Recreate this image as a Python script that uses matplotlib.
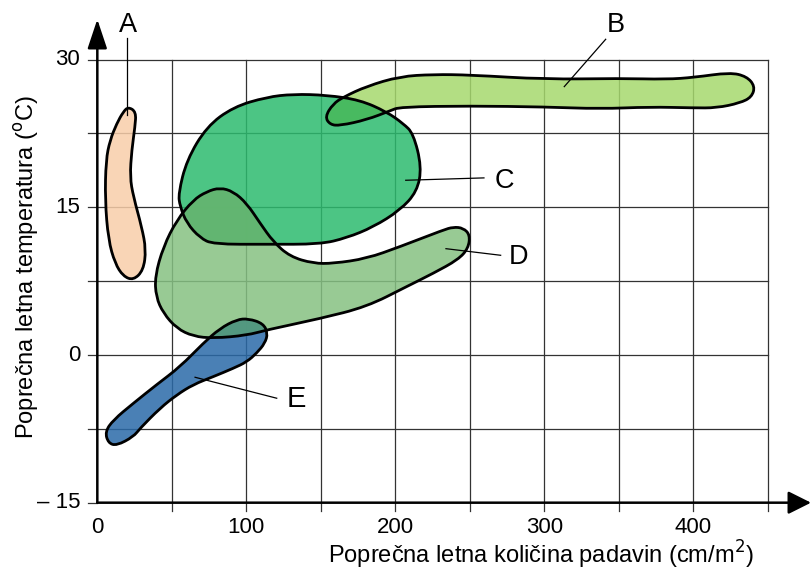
import numpy as np
import matplotlib
matplotlib.use('Agg')
import matplotlib.pyplot as plt
from matplotlib.path import Path
from matplotlib.patches import PathPatch

plt.rcParams['font.family'] = ['Liberation Sans', 'DejaVu Sans']

# region outlines: (rainfall cm/m2, temperature C)
a_rain = [20.8, 26.0, 25.3, 23.1, 21.9, 24.2, 29.8, 32.7, 30.9, 24.2, 17.4, 11.9, 7.4, 5.2, 5.8, 8.5, 13.0, 17.4]
a_temp = [25.2, 24.7, 23.2, 20.8, 18.1, 16.1, 13.0, 10.7, 8.6, 7.6, 8.0, 9.3, 11.7, 15.75, 19.8, 21.8, 23.5, 24.7]

b_rain = [152.8, 158.2, 165.1, 180.8, 203.1, 225.5, 250.3, 300.5, 350.3, 382.1, 400.6, 424.6, 435.8, 441.4,
          439.2, 431.3, 415.7, 400.0, 370.9, 337.4, 300.5, 250.3, 203.1, 196.4, 180.8, 162.9, 156.2]
b_temp = [24.2, 25.5, 26.2, 27.3, 28.3, 28.5, 28.45, 28.0, 28.1, 28.0, 28.2, 28.7, 28.3, 27.3,
          26.2, 25.6, 25.1, 25.1, 25.2, 25.0, 25.2, 25.3, 25.2, 24.8, 23.9, 23.3, 23.4]

c_rain = [54.4, 60.0, 73.4, 91.3, 113.7, 131.5, 154.0, 176.3, 194.2, 205.4, 212.1, 217.7, 214.6, 203.1,
          185.2, 167.4, 149.5, 113.7, 77.8, 68.9, 60.0, 55.5]
c_temp = [16.4, 19.8, 23.2, 25.2, 26.2, 26.5, 26.4, 25.9, 24.7, 23.5, 22.5, 19.1, 16.6, 14.7,
          13.0, 11.9, 11.25, 11.25, 11.25, 11.9, 13.4, 15.1]

d_rain = [38.7, 44.3, 53.3, 64.4, 73.4, 82.3, 91.3, 100.3, 109.2, 118.1, 129.3, 145.0, 158.4, 180.8, 203.1,
          232.2, 238.9, 245.6, 250.1, 249.0, 242.3, 225.5, 207.6, 180.8, 149.5, 113.7, 100.3, 77.8,
          64.4, 53.3, 44.3, 39.4]
d_temp = [8.0, 11.0, 13.7, 15.75, 16.6, 17.0, 16.6, 15.4, 13.4, 11.5, 10.0, 9.3, 9.3, 9.8, 11.0,
          12.7, 13.0, 12.9, 12.2, 10.85, 9.7, 8.3, 6.95, 4.9, 3.7, 2.55, 2.0, 1.7,
          1.9, 2.7, 4.25, 5.9]

e_rain = [101.3, 111.4, 114.4, 112.5, 107.0, 100.3, 91.3, 77.8, 64.4, 53.3, 42.1, 28.7, 24.2, 13.0, 7.4,
          5.2, 10.7, 24.2, 39.9, 55.5, 71.1, 82.3, 93.6]
e_temp = [3.7, 3.2, 2.2, 1.2, 0.2, -0.7, -1.35, -2.2, -3.0, -4.05, -5.4, -7.45, -8.3, -9.2, -8.95,
          -7.8, -6.6, -4.9, -3.0, -1.2, 1.2, 2.7, 3.6]

x_ticks = [0, 100, 200, 300, 400]
x_ticklabels = ['0', '100', '200', '300', '400']
y_ticks = [30, 15, 0, -15]
y_ticklabels = ['30', '15', '0', '\u2013 15']
grid_x = [50, 100, 150, 200, 250, 300, 350, 400, 450]
grid_y = [-7.5, 0, 7.5, 15, 22.5, 30]


def blob_path(xs, ys):
    pts = np.column_stack([xs, ys])
    mids = (pts + np.roll(pts, -1, axis=0)) / 2
    verts = [mids[-1]]
    codes = [Path.MOVETO]
    for i in range(len(pts)):
        verts += [pts[i], mids[i]]
        codes += [Path.CURVE3, Path.CURVE3]
    verts.append(mids[-1])
    codes.append(Path.CLOSEPOLY)
    return Path(verts, codes)


fig = plt.figure(figsize=(8.11, 5.77), dpi=100)
ax = fig.add_axes([0.12, 0.1288, 0.88, 0.8712])
ax.set_xlim(0, 479)
ax.set_ylim(-15, 36.06)
ax.axis('off')

# grid and ticks
for gx in grid_x:
    ax.plot([gx, gx], [-15.8, 30], color='#333333', lw=0.9, zorder=1, clip_on=False)
for gy in grid_y + [-15]:
    ax.plot([-6.2, 450 if gy != -15 else 0], [gy, gy], color='#333333', lw=0.9, zorder=1, clip_on=False)

# axes with arrows
ax.annotate('', xy=(479, -15), xytext=(0, -15), annotation_clip=False,
            arrowprops=dict(arrowstyle='-|>,head_length=0.7,head_width=0.35', lw=1.8,
                            color='black', mutation_scale=20, shrinkA=0, shrinkB=0))
ax.annotate('', xy=(0, 34.1), xytext=(0, -15), annotation_clip=False,
            arrowprops=dict(arrowstyle='-|>,head_length=0.9,head_width=0.3', lw=1.8,
                            color='black', mutation_scale=20, shrinkA=0, shrinkB=0))

shapes = {
    'C': (c_rain, c_temp, '#2CBB6F'),
    'B': (b_rain, b_temp, '#A6D96D'),
    'D': (d_rain, d_temp, '#86C182'),
    'A': (a_rain, a_temp, '#F8CEAA'),
    'E': (e_rain, e_temp, '#2A6AA8'),
}
paths = {}
for key, (xs, ys, col) in shapes.items():
    paths[key] = blob_path(xs, ys)
    ax.add_patch(PathPatch(paths[key], facecolor=col, edgecolor='none', alpha=0.85, zorder=2))

# overlapping parts
for top, under, col in [('B', 'C', '#3AB65E'), ('D', 'C', '#5EB46E'), ('E', 'D', '#589E7A')]:
    p = PathPatch(paths[top], facecolor=col, edgecolor='none', alpha=0.85, zorder=3)
    ax.add_patch(p)
    p.set_clip_path(paths[under], ax.transData)

for key in shapes:
    ax.add_patch(PathPatch(paths[key], facecolor='none', edgecolor='black', lw=2.0, zorder=5))

# labels with leader lines
labels = [('A', 20.7, 33.5, [20.0, 20.0], [32.2, 24.4], 19.5),
          ('B', 348.1, 33.5, [341.2, 313.4], [32.07, 27.26], 19.5),
          ('C', 272.9, 17.7, [259.5, 207.0], [17.99, 17.75], 19.5),
          ('D', 283.0, 10.0, [270.7, 234.0], [10.13, 10.8], 19.5),
          ('E', 133.8, -4.46, [120.4, 65.6], [-4.39, -2.26], 21)]
for name, lx, ly, xs, ys, fs in labels:
    ax.plot(xs, ys, color='black', lw=0.9, zorder=6)
    ax.text(lx, ly, name, fontsize=fs, ha='center', va='center', zorder=6)

for t, lab in zip(x_ticks, x_ticklabels):
    ax.text(t, -17.5, lab, fontsize=16, ha='center', va='center', clip_on=False)
for t, lab in zip(y_ticks, y_ticklabels):
    ax.text(-11.6, t, lab, fontsize=16, ha='right', va='center', clip_on=False)

ax.text(297.4, -20.3, 'Poprečna letna količina padavin (cm/m$^{2}$)', fontsize=17,
        ha='center', va='center', clip_on=False)
ax.text(-47.2, 8.9, 'Poprečna letna temperatura ($^{\\mathrm{o}}$C)', fontsize=17, rotation=90,
        ha='center', va='center', clip_on=False)

fig.savefig('out.png', dpi=100)
